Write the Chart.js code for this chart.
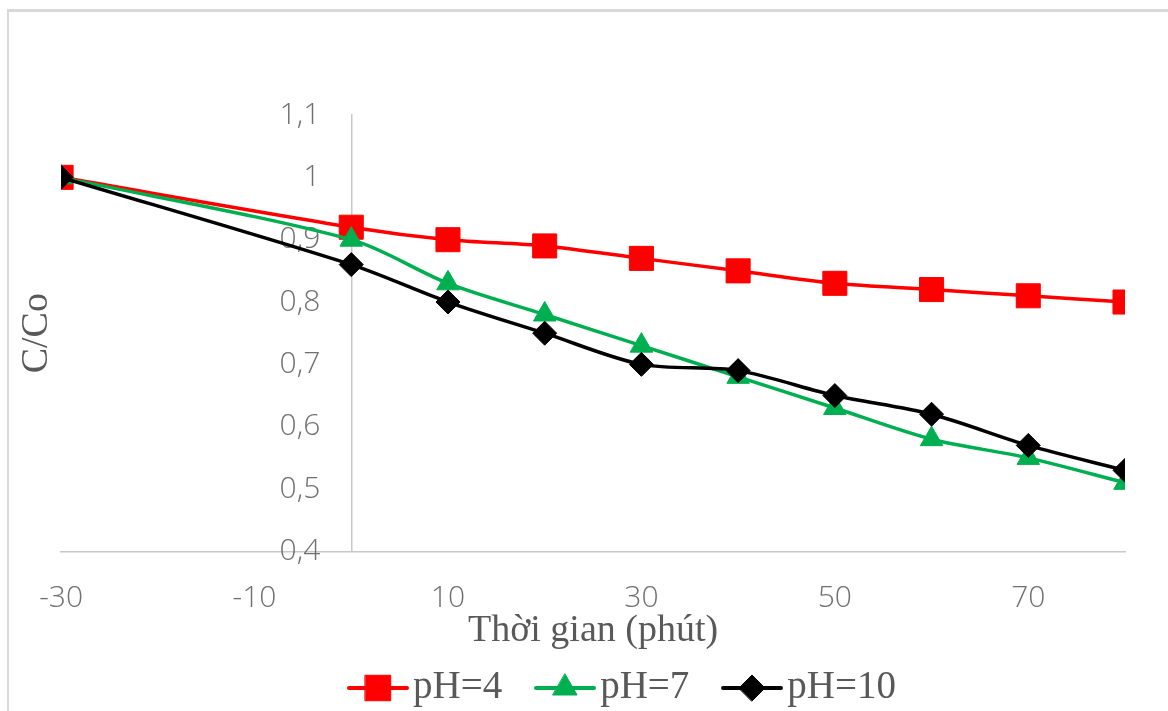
<!DOCTYPE html>
<html>
<head>
<meta charset="utf-8">
<script src="https://cdn.jsdelivr.net/npm/chart.js@4/dist/chart.umd.min.js"></script>
<style>
  html, body { margin: 0; padding: 0; background: #fff; }
  #wrap { position: relative; width: 1168px; height: 711px; overflow: hidden; }
  #frame { position: absolute; left: 7px; top: 9px; width: 1200px; height: 800px;
           border-top: 3px solid #d9d9d9; border-left: 2px solid #d9d9d9; }
  #chart { position: absolute; left: 0; top: 0; }
  #legend { position: absolute; left: 346px; top: 672px; display: flex; align-items: flex-start; }
  .item { display: flex; align-items: flex-start; margin-right: 31px; }
  .item canvas { display: block; margin-right: 3px; }
  .item span { display: block; margin-top: -7px; line-height: 39px; font-size: 39px;
               font-family: "Liberation Serif", "Times New Roman", serif; color: #595959; white-space: nowrap; }
</style>
</head>
<body>
<div id="wrap">
  <div id="frame"></div>
  <canvas id="chart" width="1168" height="711"></canvas>
  <div id="legend"></div>
</div>
<script>
// time (minutes)
const times = [-30, 0, 10, 20, 30, 40, 50, 60, 70, 80];
const xTickValues = [-30, -10, 10, 30, 50, 70];

// C/Co per pH
const ph4 = [1.00, 0.92, 0.90, 0.89, 0.87, 0.85, 0.83, 0.82, 0.81, 0.80];
const ph7 = [1.00, 0.90, 0.83, 0.78, 0.73, 0.68, 0.63, 0.58, 0.55, 0.51];
const ph10 = [1.00, 0.86, 0.80, 0.75, 0.70, 0.69, 0.65, 0.62, 0.57, 0.53];

const seriesLabels = ['pH=4', 'pH=7', 'pH=10'];
const seriesColors = ['#ff0000', '#00b050', '#000000'];
const seriesShapes = ['rect', 'triangle', 'rectRot'];
const seriesRadius = [17, 13, 12];

const TICK_FONT = { family: '"Open Sans", "Noto Sans", sans-serif', size: 30, weight: 300 };
const SERIF = '"Liberation Serif", "Times New Roman", serif';

function toPoints(ys) {
    return times.map((t, i) => ({ x: t, y: ys[i] }));
}

const allSeries = [ph4, ph7, ph10];
const datasets = allSeries.map((ys, i) => ({
    label: seriesLabels[i],
    data: toPoints(ys),
    borderColor: seriesColors[i],
    backgroundColor: seriesColors[i],
    borderWidth: 3.5,
    tension: 0.3,
    pointStyle: seriesShapes[i],
    pointRadius: seriesRadius[i],
    pointHoverRadius: seriesRadius[i],
    pointBorderWidth: 1,
    pointBorderColor: seriesColors[i],
    pointBackgroundColor: seriesColors[i],
    order: 3 - i   // black drawn on top, red underneath
}));

// y axis sits on x = 0 with its labels just left of it
const crossAtZero = {
    id: 'crossAtZero',
    afterLayout(chart) {
        const y = chart.scales.y;
        const px = chart.scales.x.getPixelForValue(0);
        y.left = px - 120;   // label strip, also used as clip box
        y.right = px;
        y.width = 120;
    }
};

new Chart(document.getElementById('chart'), {
    type: 'line',
    data: { datasets },
    plugins: [crossAtZero],
    options: {
        responsive: false,
        animation: false,
        layout: { padding: { left: 10, top: 115, right: 43, bottom: 55 } },
        plugins: {
            tooltip: { enabled: false },
            legend: { display: false }
        },
        scales: {
            x: {
                type: 'linear',
                min: -30,
                max: 80,
                afterBuildTicks: (scale) => { scale.ticks = xTickValues.map(v => ({ value: v })); },
                grid: { display: false, drawTicks: true, tickLength: 8 },
                border: { display: true, color: '#c8c8c8', width: 1.5 },
                ticks: { font: TICK_FONT, color: '#707070', padding: 21, maxRotation: 0 },
                title: {
                    display: true,
                    text: 'Thời gian (phút)',
                    color: '#595959',
                    font: { family: SERIF, size: 38 },
                    padding: { top: -29, bottom: 2 }
                }
            },
            y: {
                type: 'linear',
                position: 'left',
                min: 0.4,
                max: 1.1,
                afterFit: (scale) => { scale.width = 0; },
                grid: { display: false, drawTicks: true, tickLength: 8 },
                border: { display: true, color: '#c8c8c8', width: 1.5 },
                ticks: {
                    stepSize: 0.1,
                    font: TICK_FONT,
                    color: '#707070',
                    padding: 23,
                    callback: (v) => (Math.round(v * 10) / 10).toString().replace('.', ',')
                }
            },
            yTitle: {
                type: 'linear',
                position: 'left',
                min: 0,
                max: 1,
                grid: { display: false, drawTicks: false },
                border: { display: false },
                ticks: { display: false },
                title: {
                    display: true,
                    text: 'C/Co',
                    color: '#595959',
                    font: { family: SERIF, size: 38 },
                    padding: { top: 4, bottom: 1.5 }
                }
            }
        }
    }
});

// legend: short line with the series marker, then the label
const legend = document.getElementById('legend');
seriesLabels.forEach((text, i) => {
    const item = document.createElement('div');
    item.className = 'item';
    const c = document.createElement('canvas');
    c.width = 64;
    c.height = 32;
    const g = c.getContext('2d');
    g.strokeStyle = seriesColors[i];
    g.fillStyle = seriesColors[i];
    g.lineWidth = 4;
    g.lineCap = 'round';
    g.beginPath();
    g.moveTo(3, 16);
    g.lineTo(61, 16);
    g.stroke();
    g.lineWidth = 1;
    Chart.helpers.drawPoint(g, { pointStyle: seriesShapes[i], radius: seriesRadius[i] + 1, rotation: 0, borderWidth: 1 }, 32, 16);
    const span = document.createElement('span');
    span.textContent = text;
    item.appendChild(c);
    item.appendChild(span);
    legend.appendChild(item);
});
</script>
</body>
</html>
